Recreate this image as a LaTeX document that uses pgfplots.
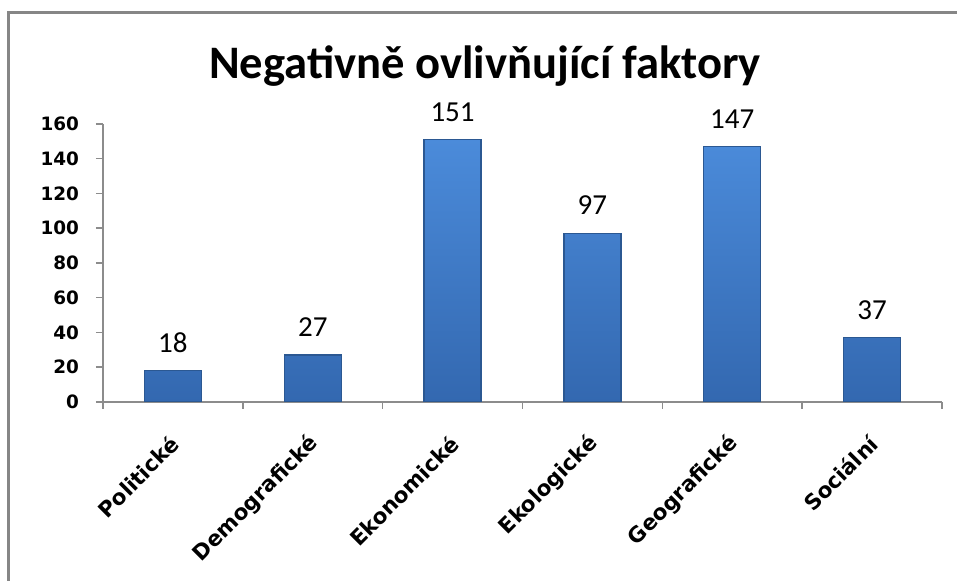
\documentclass[border=0pt]{standalone}
\usepackage{pgfplots}
\pgfplotsset{compat=1.18}
\usepackage{fontspec}
\setmainfont{Carlito}
\newfontfamily\tickfont{DejaVu Sans}
\definecolor{axisgray}{HTML}{8C8C8C}
\definecolor{framegray}{HTML}{868686}
\definecolor{bartop}{HTML}{4B8BDA}
\definecolor{barbot}{HTML}{3368B0}
\definecolor{baredge}{HTML}{2B5892}
\begin{document}
\begin{tikzpicture}
\path[use as bounding box] (-51.5pt,-89.5pt) rectangle (427pt,201pt);
\begin{axis}[
  at={(0pt,0pt)}, anchor=south west,
  scale only axis, width=419.5pt, height=139pt,
  xmin=-0.5, xmax=5.5, ymin=0, ymax=160,
  axis lines*=left,
  axis line style={axisgray, line width=0.75pt},
  ytick={0,20,...,160},
  xtick={0,...,5},
  xticklabels={Politické,Demografické,Ekonomické,Ekologické,Geografické,Sociální},
  minor xtick={-0.5,0.5,...,5.5},
  tick align=outside,
  major tick length=3.5pt, minor tick length=3.5pt,
  major x tick style={draw=none},
  minor x tick style={axisgray, line width=0.75pt},
  major y tick style={axisgray, line width=0.75pt},
  /pgf/number format/assume math mode=true,
  yticklabel style={font=\tickfont\bfseries\fontsize{9.2}{10}\selectfont, xshift=-5pt},
  xticklabel style={xshift=3.5pt, yshift=-13pt, rotate=45, anchor=east, font=\tickfont\bfseries\fontsize{10.7}{12}\selectfont},
  ybar, bar width=28.5pt,
  nodes near coords,
  every node near coord/.append style={font=\fontsize{14.5}{16}\selectfont, anchor=base, yshift=9.25pt, black},
]
\addplot[draw=baredge, line width=0.6pt, top color=bartop, bottom color=barbot]
  coordinates {(0,18) (1,27) (2,151) (3,97) (4,147) (5,37)};
\end{axis}
\draw[framegray, line width=1.5pt] (-47pt,-100pt) -- (-47pt,194.75pt) -- (440pt,194.75pt);
\node[anchor=base, font=\bfseries\fontsize{23.3}{28}\selectfont] at (191pt,161.5pt) {Negativně ovlivňující faktory};
\end{tikzpicture}
\end{document}
